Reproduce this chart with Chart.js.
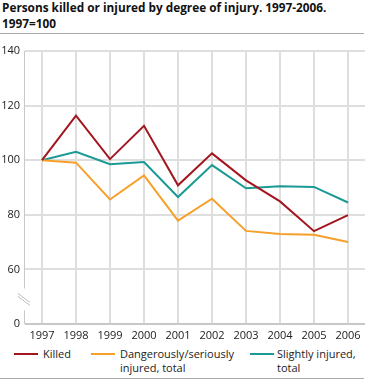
<!DOCTYPE html>
<html>
<head>
<meta charset="utf-8">
<script src="https://cdn.jsdelivr.net/npm/chart.js@4"></script>
<style>
  body { margin: 0; background: #fff; font-family: "Open Sans", sans-serif; color: #222; }
  #wrap { position: relative; width: 368px; height: 380px; overflow: hidden; }
  #title { position: absolute; left: 2px; top: -1px; font-weight: bold; font-size: 11.8px; line-height: 16px; color: #111; }
  .rule { position: absolute; left: 0; width: 364px; height: 1px; background: #aaa; }
  #chartBox { position: absolute; left: 0; top: 36px; width: 368px; height: 310px; }
  .item { position: absolute; font-size: 11px; line-height: 14px; color: #222; }
  .swatch { position: absolute; height: 2px; width: 24px; }
</style>
</head>
<body>
<div id="wrap">
  <div id="title">Persons killed or injured by degree of injury. 1997-2006.<br>1997=100</div>
  <div class="rule" style="top:33px"></div>
  <div id="chartBox"><canvas id="grafico"></canvas></div>
  <div id="legend"></div>
  <div class="rule" style="top:378px"></div>
</div>
<script>
// dados
const years = ["1997", "1998", "1999", "2000", "2001", "2002", "2003", "2004", "2005", "2006"];
const killed = [100, 116.3, 100.4, 112.6, 90.8, 102.5, 92.6, 84.9, 74.0, 79.9];
const dangerous = [100, 99.1, 85.6, 94.4, 77.9, 85.9, 74.1, 73.0, 72.7, 70.0];
const slightly = [100, 103.1, 98.5, 99.3, 86.5, 98.2, 89.7, 90.5, 90.2, 84.5];
const seriesNames = ["Killed", "Dangerously/seriously injured, total", "Slightly injured, total"];
const legendLines = [["Killed"], ["Dangerously/seriously", "injured, total"], ["Slightly injured,", "total"]];
const colors = ["#a3161f", "#f6a02b", "#1a9a94"];
// eixo y quebrado: 40 na escala aparece como 0
const yTicks = [40, 60, 80, 100, 120, 140];
const yTickLabels = ["0", "60", "80", "100", "120", "140"];

// legenda em html
const legendPos = [[14, 43], [91, 120], [250, 277]];
const legend = document.getElementById("legend");
legendLines.forEach((lines, i) => {
  const sw = document.createElement("div");
  sw.className = "swatch";
  sw.style.left = legendPos[i][0] + "px";
  sw.style.top = "353px";
  sw.style.background = colors[i];
  legend.appendChild(sw);
  const t = document.createElement("div");
  t.className = "item";
  t.style.left = legendPos[i][1] + "px";
  t.style.top = "347px";
  t.innerHTML = lines.join("<br>");
  legend.appendChild(t);
});

// desenha o eixo y com a quebra
const axisBreak = {
  id: "axisBreak",
  afterDraw(chart) {
    const c = chart.ctx;
    const a = chart.chartArea;
    const y = chart.scales.y;
    const gapTop = y.getPixelForValue(53);
    const gapBottom = y.getPixelForValue(45);
    const mid = y.getPixelForValue(49);
    c.save();
    c.strokeStyle = "#c8c8c8";
    c.lineWidth = 1;
    c.beginPath();
    c.moveTo(a.left - 0.5, a.top);
    c.lineTo(a.left - 0.5, gapTop);
    c.moveTo(a.left - 0.5, gapBottom);
    c.lineTo(a.left - 0.5, a.bottom);
    c.stroke();
    c.strokeStyle = "#bdbdbd";
    c.beginPath();
    c.moveTo(a.left - 7, mid - 6);
    c.lineTo(a.left + 5, mid + 3);
    c.moveTo(a.left - 7, mid - 3);
    c.lineTo(a.left + 5, mid + 6);
    c.stroke();
    c.restore();
  },
};

const ctx = document.getElementById("grafico");

new Chart(ctx, {
  type: "line",
  data: {
    labels: years,
    datasets: [killed, dangerous, slightly].map((d, i) => ({
      label: seriesNames[i],
      data: d,
      borderColor: colors[i],
      backgroundColor: colors[i],
      borderWidth: 2,
      pointRadius: 0,
      tension: 0,
    })),
  },
  options: {
    responsive: true,
    maintainAspectRatio: false,
    animation: false,
    layout: { padding: { top: 15, right: 3, left: 0, bottom: 0 } },
    plugins: { legend: { display: false }, tooltip: { enabled: false } },
    scales: {
      x: {
        offset: true,
        grid: { offset: false, color: "#dedede", lineWidth: 2, drawTicks: false },
        border: { display: false },
        ticks: { color: "#222", padding: 5, font: { family: "Open Sans", size: 11 }, maxRotation: 0 },
        afterFit: (a) => { a.height = 22; },
      },
      y: {
        min: 40,
        max: 140,
        afterBuildTicks: (a) => { a.ticks = yTicks.map((v) => ({ value: v })); },
        grid: { color: (c) => (c.tick.value === 40 ? "#c8c8c8" : "#dedede"), lineWidth: 2, drawTicks: false },
        border: { display: false },
        ticks: {
          color: "#222",
          padding: 5,
          font: { family: "Open Sans", size: 11 },
          callback: (v) => yTickLabels[yTicks.indexOf(v)],
        },
        afterFit: (a) => { a.width = 25; },
      },
    },
  },
  plugins: [axisBreak],
});
</script>
</body>
</html>
